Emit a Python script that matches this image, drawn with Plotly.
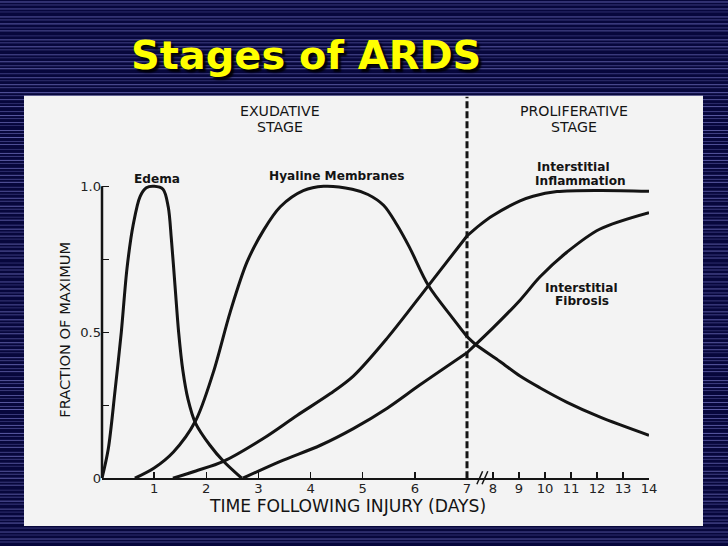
import plotly.graph_objects as go

# Reference picture size (all layout positions below are given in these pixels)
REF_W, REF_H = 728, 546
# The page is photographed through a slightly larger canvas, so the figure is
# sized to it; positions are paper fractions, so they scale with it.
FIG_W, FIG_H = 736, 552
FS = FIG_W / REF_W

# ---------------- data ----------------
EDEMA_DAYS = [0, 0.12, 0.25, 0.37, 0.48, 0.6, 0.73, 0.85, 1.0, 1.17, 1.27, 1.33, 1.4, 1.47, 1.55, 1.65, 1.79, 2.07, 2.33, 2.68]
EDEMA_VALS = [0, 0.10, 0.30, 0.50, 0.72, 0.87, 0.965, 0.995, 1.0, 0.99, 0.93, 0.82, 0.66, 0.50, 0.37, 0.27, 0.19, 0.113, 0.058, 0]

HYALINE_DAYS = [0.63, 1.0, 1.37, 1.79, 2.13, 2.46, 2.78, 3.1, 3.42, 3.86, 4.25, 4.8, 5.1, 5.4, 5.65, 5.9, 6.26, 6.74, 7.0,
                7.31, 8.27, 9.04, 9.8, 10.85, 12.1, 14.0]
HYALINE_VALS = [0, 0.035, 0.09, 0.195, 0.36, 0.57, 0.74, 0.85, 0.93, 0.985, 1.0, 0.99, 0.972, 0.935, 0.87, 0.79, 0.66, 0.545, 0.485,
                0.46, 0.40, 0.35, 0.31, 0.26, 0.21, 0.147]

INFLAMMATION_DAYS = [1.36, 1.8, 2.33, 3.1, 3.74, 4.38, 4.82, 5.47, 6.26, 7.0,
                     7.5, 8.0, 9.04, 9.54, 10.46, 12.1, 14.0]
INFLAMMATION_VALS = [0, 0.025, 0.058, 0.137, 0.215, 0.29, 0.35, 0.48, 0.66, 0.83,
                     0.868, 0.9, 0.95, 0.966, 0.982, 0.986, 0.983]

FIBROSIS_DAYS = [2.7, 3.42, 4.19, 4.82, 5.47, 6.1, 7.0,
                 8.0, 9.04, 9.81, 10.85, 12.1, 14.0]
FIBROSIS_VALS = [0, 0.058, 0.113, 0.17, 0.24, 0.32, 0.43,
                 0.515, 0.61, 0.69, 0.775, 0.853, 0.91]

STAGE_BOUNDARY_DAY = 7
LAST_DAY = 14
X_TICKS_EARLY = [1, 2, 3, 4, 5, 6, 7]
X_TICKS_LATE = [8, 9, 10, 11, 12, 13, 14]
Y_TICKS = [0, 0.25, 0.5, 0.75, 1.0]
Y_TICK_LABELS = ["0", "", "0.5", "", "1.0"]
Y_MAX = 1.0

SERIES = [
    ("Edema", EDEMA_DAYS, EDEMA_VALS),
    ("Hyaline Membranes", HYALINE_DAYS, HYALINE_VALS),
    ("Interstitial Inflammation", INFLAMMATION_DAYS, INFLAMMATION_VALS),
    ("Interstitial Fibrosis", FIBROSIS_DAYS, FIBROSIS_VALS),
]

# ---------------- helpers ----------------
def px(x):
    return x / REF_W


def py(y):
    return 1 - y / REF_H


INK = "#141414"
FONT = "DejaVu Sans"
BG = "#07073c"

fig = go.Figure()

for name, days, vals in SERIES:
    early = [(d, v) for d, v in zip(days, vals) if d <= STAGE_BOUNDARY_DAY]
    late = [(d, v) for d, v in zip(days, vals) if d >= STAGE_BOUNDARY_DAY]
    for part, xa in ((early, "x"), (late, "x2")):
        if len(part) < 2:
            continue
        fig.add_trace(go.Scatter(
            x=[p[0] for p in part], y=[p[1] for p in part],
            xaxis=xa, yaxis="y", mode="lines", name=name,
            line=dict(color=INK, width=3 * FS, shape="spline", smoothing=0.9),
            hoverinfo="skip", showlegend=False,
        ))

axis_common = dict(
    showline=True, linecolor=INK, linewidth=2,
    ticks="inside", ticklen=6, tickwidth=1.5, tickcolor=INK,
    showgrid=False, zeroline=False, anchor="y",
    tickfont=dict(family=FONT, size=13 * FS, color="#222"),
    ticklabelstandoff=-3,
    fixedrange=True,
)

y_bottom_px = 480
y_scale = 293  # ref px per unit
y_range_top = 1.1
y_top_px = y_bottom_px - y_range_top * y_scale

shapes = []
# striped background
gaps = [3, 4, 3, 5, 3, 4, 4, 3, 5, 4]
alphas = [0.75, 0.45, 0.65, 0.35, 0.7, 0.5]
yy = 2
k = 0
while yy < REF_H:
    shapes.append(dict(type="line", xref="paper", yref="paper", x0=0, x1=1,
                       y0=py(yy), y1=py(yy), layer="below",
                       line=dict(color="rgba(120,120,200,%.2f)" % alphas[k % len(alphas)], width=1)))
    yy += gaps[k % len(gaps)]
    k += 1
# white panel
shapes.append(dict(type="rect", xref="paper", yref="paper", x0=px(24), x1=px(703), y0=py(528), y1=py(96),
                   fillcolor="#f3f3f3", line=dict(width=0), layer="below"))
# y axis line (stops at 1.0)
shapes.append(dict(type="line", xref="x domain", yref="y", x0=0, x1=0, y0=0, y1=Y_MAX,
                   line=dict(color=INK, width=2.5)))
# stage boundary dashed line
shapes.append(dict(type="line", xref="x2 domain", yref="paper", x0=0, x1=0, y0=py(y_bottom_px), y1=py(97),
                   line=dict(color=INK, width=3, dash="7px,3px")))
# axis break marks
for d0, d1 in ((7.38, 7.6), (7.58, 7.8)):
    shapes.append(dict(type="line", xref="x2", yref="paper", x0=d0, x1=d1, y0=py(486), y1=py(473),
                       line=dict(color=INK, width=1.5)))

annotations = []


def note(text, x, y, size=12, bold=False, color=INK, angle=0, family=FONT, shadow=None):
    f = dict(family=family, size=size * FS, color=color, weight="bold" if bold else "normal")
    if shadow:
        f["shadow"] = shadow
    annotations.append(dict(
        text=text, x=px(x), y=py(y), xref="paper", yref="paper",
        xanchor="center", yanchor="middle", showarrow=False, textangle=angle,
        font=f,
    ))


# title with shadow
note("Stages of ARDS", 306, 55.5, size=39.5, bold=True, color="#ffff00",
     shadow="3px 3px 2px rgba(0,0,0,0.9)")

note("EXUDATIVE", 280, 111, size=14)
note("STAGE", 280, 127, size=14)
note("PROLIFERATIVE", 574, 111, size=14)
note("STAGE", 574, 127, size=14)
note("Edema", 157, 180, size=12, bold=True)
note("Hyaline Membranes", 336, 177, size=12, bold=True)
note("Interstitial", 573, 168, size=12, bold=True)
note("Inflammation", 580, 182, size=12, bold=True)
note("Interstitial", 581, 289, size=12, bold=True)
note("Fibrosis", 582, 302, size=12, bold=True)
note("FRACTION OF MAXIMUM", 65, 331, size=14.5, angle=-90)
note("TIME FOLLOWING INJURY (DAYS)", 347, 508, size=17)

fig.update_layout(
    autosize=True,
    margin=dict(l=0, r=0, t=0, b=0),
    paper_bgcolor=BG,
    plot_bgcolor="rgba(0,0,0,0)",
    showlegend=False,
    hovermode=False,
    xaxis=dict(domain=[px(102), px(467)], range=[0, STAGE_BOUNDARY_DAY], tickvals=X_TICKS_EARLY, **axis_common),
    xaxis2=dict(domain=[px(467), px(649)], range=[STAGE_BOUNDARY_DAY, LAST_DAY], tickvals=X_TICKS_LATE, **axis_common),
    yaxis=dict(domain=[py(y_bottom_px), py(y_top_px)], range=[0, y_range_top], anchor="x",
               showline=False, ticks="inside", ticklen=7, tickwidth=1.5, tickcolor=INK,
               tickvals=Y_TICKS, ticktext=Y_TICK_LABELS, showgrid=False, zeroline=False,
               tickfont=dict(family=FONT, size=13 * FS, color="#222"), fixedrange=True),
    shapes=shapes,
    annotations=annotations,
)

fig.write_html(
    "out.html",
    default_width="%dpx;position:absolute;left:0;top:0" % FIG_W,
    default_height="%dpx" % FIG_H,
    config={"displayModeBar": False, "staticPlot": True},
    post_script="document.body.style.background='%s';document.documentElement.style.background='%s';" % (BG, BG),
)
